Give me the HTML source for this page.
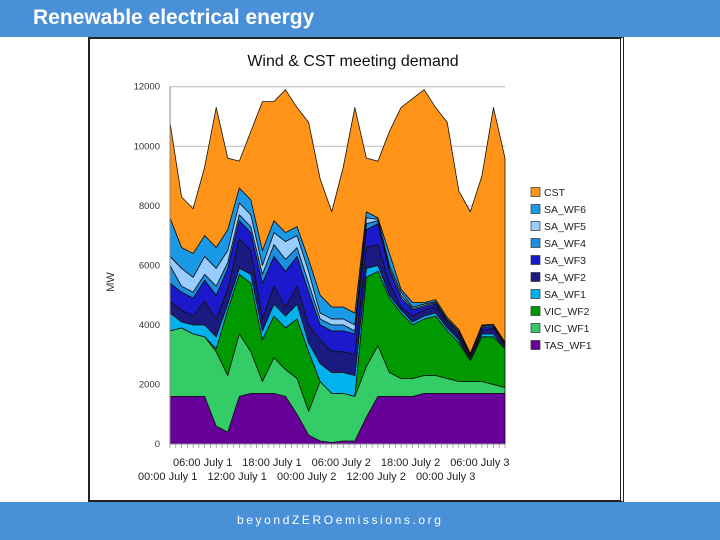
<!DOCTYPE html>
<html><head><meta charset="utf-8"><style>
body{margin:0;width:720px;height:540px;overflow:hidden;background:#fff;font-family:"Liberation Sans",sans-serif;position:relative}
#hdr{position:absolute;left:0;top:0;width:720px;height:37px;background:#4a90d9}
#ttl{position:absolute;left:33px;top:6px;color:#fff;font-weight:bold;font-size:21px}
#ftr{position:absolute;left:0;top:502px;width:720px;height:38px;background:#4a90d9}
#ftxt{position:absolute;left:237px;top:11px;color:#fff;font-size:12px;letter-spacing:2.6px}
#box{position:absolute;left:88px;top:37px;width:530px;height:461px;border:2px solid #222;border-right:4px double #222;background:#fff}
svg{position:absolute;left:0;top:0}
</style></head><body>
<div id="hdr"><div id="ttl">Renewable electrical energy</div></div>
<div id="box"></div>
<div id="ftr"><div id="ftxt">beyondZEROemissions.org</div></div>
<svg id="chart" width="720" height="540"></svg>
<script>
const seriesNames=["TAS_WF1","VIC_WF1","VIC_WF2","SA_WF1","SA_WF2","SA_WF3","SA_WF4","SA_WF5","SA_WF6","CST"];
const seriesColors=["#660099","#33cc66","#009900","#00b2ee","#1a1a80","#1a1acc","#1e8fe0","#99ccff","#1a9ae6","#ff9419"];
const TAS_WF1=[1600,1600,1600,1600,600,400,1600,1700,1700,1700,1600,1000,300,100,50,100,100,900,1600,1600,1600,1600,1700,1700,1700,1700,1700,1700,1700,1700];
const VIC_WF1=[2200,2300,2100,2000,2500,1900,2100,1400,400,1200,900,1200,800,2000,1650,1600,1500,1700,1700,800,600,600,600,600,500,400,400,400,300,200];
const VIC_WF2=[0,0,0,0,100,2200,2000,2300,1400,1400,1400,2000,2000,0,0,0,0,3000,2500,2500,2200,1800,1900,2000,1600,1300,700,1500,1600,1300];
const SA_WF1=[600,200,300,400,400,200,200,300,300,400,400,500,300,600,700,700,700,300,200,100,100,100,100,100,100,100,0,100,100,0];
const SA_WF2=[400,400,300,800,600,500,1000,800,400,600,300,600,600,800,700,700,700,700,700,400,100,200,200,200,100,100,100,100,200,100];
const SA_WF3=[600,600,600,700,800,700,600,600,1200,1000,1200,1000,1100,500,700,700,700,600,700,400,300,200,100,100,100,100,50,100,50,50];
const SA_WF4=[600,200,200,200,300,200,200,200,300,400,400,300,300,200,200,200,100,200,100,100,100,50,50,50,50,50,50,50,50,50];
const SA_WF5=[300,600,500,600,600,400,400,400,300,400,600,400,400,200,200,200,200,200,50,100,100,50,50,30,30,50,0,30,0,0];
const SA_WF6=[1300,700,800,700,700,700,500,500,500,400,300,300,400,600,400,400,400,200,50,400,100,150,50,70,70,50,50,20,20,20];
const CST=[3200,1700,1500,2300,4700,2400,900,2300,5000,4000,4800,4000,4600,3900,3200,4700,6900,1800,1900,4100,6100,6850,7150,6450,6550,4650,4750,5000,7280,6180];
const yTicks=[0,2000,4000,6000,8000,10000,12000];
const xLabelsTop=["06:00 July 1","18:00 July 1","06:00 July 2","18:00 July 2","06:00 July 3"];
const xLabelsBot=["00:00 July 1","12:00 July 1","00:00 July 2","12:00 July 2","00:00 July 3"];
const allSeries=[TAS_WF1,VIC_WF1,VIC_WF2,SA_WF1,SA_WF2,SA_WF3,SA_WF4,SA_WF5,SA_WF6,CST];
const NS="http://www.w3.org/2000/svg";
const svg=document.getElementById('chart');
const X0=170,X1=505,Y0=444,Y1=86.7,YMAX=12000;
const n=CST.length;
const xs=i=>X0+(X1-X0)*i/(n-1);
const ys=v=>Y0-(Y0-Y1)*v/YMAX;
function mk(t,a){const e=document.createElementNS(NS,t);for(const k in a)e.setAttribute(k,a[k]);svg.appendChild(e);return e;}
const title=mk('text',{x:353,y:66,'text-anchor':'middle','font-size':16,fill:'#111'});title.textContent='Wind & CST meeting demand';


yTicks.forEach(v=>{
 const g=mk('line',{x1:X0,x2:X1,y1:ys(v),y2:ys(v),stroke:'#bbb','stroke-width':1});
 
 
 const t=mk('text',{x:160,y:ys(v)+3,'text-anchor':'end','font-size':9.5,fill:'#333'});t.textContent=v;
 
 
});
const yt=mk('text',{x:0,y:0,transform:'translate(114,282) rotate(-90)','text-anchor':'middle','font-size':11,fill:'#333'});yt.textContent='MW';


let base=new Array(n).fill(0);
allSeries.forEach((s,k)=>{
 const top=base.map((b,i)=>b+s[i]);
 let d='M'+xs(0)+','+ys(top[0]);
 for(let i=1;i<n;i++)d+='L'+xs(i)+','+ys(top[i]);
 for(let i=n-1;i>=0;i--)d+='L'+xs(i)+','+ys(base[i]);
 const p=mk('path',{d:d+'Z',fill:seriesColors[k],stroke:'#111','stroke-width':0.8,'stroke-linejoin':'round'});
 
 
 base=top;
});
mk('line',{x1:X0,x2:X0,y1:Y1,y2:Y0,stroke:'#888'});
mk('line',{x1:X0,x2:X1,y1:Y0,y2:Y0,stroke:'#888'});
for(let i=0;i<=58;i++){const x=X0+(X1-X0)*i/58;mk('line',{x1:x,x2:x,y1:Y0,y2:Y0+4,stroke:'#888','stroke-width':0.7});}
xLabelsTop.forEach((l,i)=>{const t=mk('text',{x:173+i*69.3,y:466,'font-size':11,fill:'#222'});t.textContent=l;
 
 });
xLabelsBot.forEach((l,i)=>{const t=mk('text',{x:138+i*69.5,y:480,'font-size':11,fill:'#222'});t.textContent=l;
 
 });
for(let k=0;k<10;k++){
 const idx=9-k,y=192+k*17;
 const r=mk('rect',{x:531,y:y-4.5,width:9,height:9,fill:seriesColors[idx],stroke:'#333','stroke-width':0.7});
 
 
 const t=mk('text',{x:544,y:y+4,'font-size':10.5,fill:'#222'});t.textContent=seriesNames[idx];
 
 
}
</script>
</body></html>
